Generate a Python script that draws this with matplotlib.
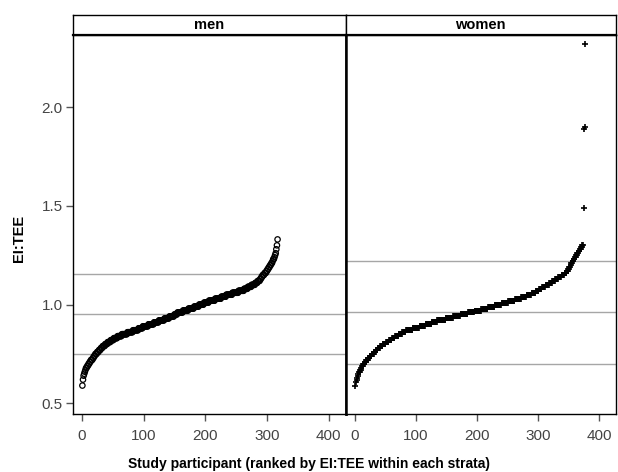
import matplotlib
matplotlib.use("Agg")
import matplotlib.pyplot as plt
import numpy as np

plt.rcParams['font.family'] = ['Liberation Sans', 'DejaVu Sans']

panels = ["men", "women"]
x_ticks = [0, 100, 200, 300, 400]
y_ticks = [0.5, 1.0, 1.5, 2.0]
y_tick_labels = ["0.5", "1.0", "1.5", "2.0"]

men_values = [
    0.59, 0.62, 0.64, 0.65, 0.66, 0.67, 0.68, 0.68, 0.69, 0.69,
    0.70, 0.70, 0.71, 0.71, 0.72, 0.72,
    0.72, 0.73, 0.73, 0.74, 0.74, 0.75, 0.75, 0.75,
    0.76, 0.76, 0.76, 0.77, 0.77, 0.77, 0.78, 0.78, 0.78, 0.79, 0.79,
    0.79, 0.79, 0.80, 0.80, 0.80, 0.80, 0.81, 0.81, 0.81, 0.81, 0.81, 0.82, 0.82, 0.82, 0.82, 0.82,
    0.83, 0.83, 0.83, 0.83, 0.83, 0.83, 0.84, 0.84, 0.84, 0.84, 0.84, 0.84, 0.84, 0.85, 0.85, 0.85,
    0.85, 0.85, 0.85, 0.85, 0.85, 0.85,
    0.86, 0.86, 0.86, 0.86, 0.86, 0.86, 0.86, 0.86, 0.86, 0.87, 0.87, 0.87, 0.87, 0.87, 0.87, 0.87,
    0.87, 0.87, 0.88, 0.88, 0.88, 0.88, 0.88, 0.88, 0.88, 0.89, 0.89,
    0.89, 0.89, 0.89, 0.89, 0.89, 0.89, 0.89, 0.90, 0.90, 0.90, 0.90, 0.90, 0.90, 0.90, 0.90, 0.90,
    0.91, 0.91, 0.91, 0.91, 0.91, 0.91, 0.91, 0.91, 0.92, 0.92, 0.92,
    0.92, 0.92, 0.92, 0.92, 0.92, 0.92, 0.93, 0.93, 0.93, 0.93, 0.93, 0.93, 0.93, 0.93, 0.94, 0.94,
    0.94, 0.94, 0.94, 0.94, 0.94, 0.94, 0.95, 0.95, 0.95, 0.95, 0.95,
    0.96, 0.96, 0.96, 0.96, 0.96, 0.96, 0.96, 0.96, 0.96, 0.97, 0.97, 0.97, 0.97, 0.97, 0.97, 0.97,
    0.97, 0.97, 0.98, 0.98, 0.98, 0.98, 0.98, 0.98, 0.98, 0.98, 0.98,
    0.99, 0.99, 0.99, 0.99, 0.99, 0.99, 0.99, 0.99, 1.00, 1.00, 1.00, 1.00, 1.00, 1.00, 1.00, 1.00,
    1.01, 1.01, 1.01, 1.01, 1.01, 1.01, 1.01, 1.01, 1.02, 1.02, 1.02,
    1.02, 1.02, 1.02, 1.02, 1.02, 1.02, 1.02, 1.03, 1.03, 1.03, 1.03, 1.03, 1.03, 1.03, 1.03, 1.03,
    1.03, 1.04, 1.04, 1.04, 1.04, 1.04, 1.04, 1.04, 1.04, 1.05, 1.05,
    1.05, 1.05, 1.05, 1.05, 1.05, 1.05, 1.05, 1.05, 1.06, 1.06, 1.06, 1.06, 1.06, 1.06, 1.06, 1.06,
    1.06, 1.06, 1.07, 1.07, 1.07, 1.07, 1.07, 1.07, 1.07, 1.07, 1.07,
    1.08, 1.08, 1.08, 1.08, 1.08, 1.08, 1.09, 1.09, 1.09, 1.09, 1.09, 1.09, 1.10, 1.10, 1.10, 1.10,
    1.10, 1.10, 1.11, 1.11, 1.11, 1.11, 1.12, 1.12, 1.12, 1.12, 1.13,
    1.13, 1.14, 1.14, 1.15, 1.15, 1.15, 1.16, 1.16,
    1.16, 1.17, 1.17, 1.18, 1.18, 1.19, 1.19, 1.20,
    1.20, 1.21, 1.21, 1.22, 1.23, 1.23, 1.24, 1.25,
    1.26, 1.28, 1.30, 1.33,
]

women_values = [
    0.59, 0.61, 0.62, 0.63, 0.64, 0.65,
    0.66, 0.66, 0.67, 0.67, 0.68, 0.69,
    0.69, 0.70, 0.70, 0.70, 0.71, 0.71, 0.72, 0.72,
    0.72, 0.73, 0.73, 0.73, 0.74, 0.74, 0.74, 0.75, 0.75, 0.75, 0.75,
    0.76, 0.76, 0.76, 0.77, 0.77, 0.77, 0.78, 0.78, 0.78, 0.78, 0.79, 0.79, 0.79, 0.79, 0.80, 0.80,
    0.80, 0.80, 0.80, 0.81, 0.81, 0.81, 0.81, 0.81, 0.82, 0.82, 0.82, 0.82, 0.82, 0.83, 0.83, 0.83,
    0.83, 0.83, 0.84, 0.84, 0.84,
    0.84, 0.84, 0.84, 0.85, 0.85, 0.85, 0.85, 0.85, 0.85, 0.86, 0.86, 0.86, 0.86, 0.86, 0.86, 0.87,
    0.87, 0.87, 0.87, 0.87, 0.87, 0.87,
    0.87, 0.87, 0.87, 0.87, 0.88, 0.88, 0.88, 0.88, 0.88, 0.88, 0.88, 0.88, 0.88, 0.88, 0.88, 0.89,
    0.89, 0.89, 0.89, 0.89, 0.89, 0.89, 0.89, 0.89, 0.89, 0.90, 0.90,
    0.90, 0.90, 0.90, 0.90, 0.90, 0.90, 0.90, 0.90, 0.91, 0.91, 0.91, 0.91, 0.91, 0.91, 0.91, 0.91,
    0.91, 0.92, 0.92, 0.92, 0.92,
    0.92, 0.92, 0.92, 0.92, 0.92, 0.92, 0.92, 0.92, 0.92, 0.92, 0.93, 0.93, 0.93, 0.93, 0.93, 0.93,
    0.93, 0.93, 0.93, 0.93, 0.93, 0.93, 0.94, 0.94, 0.94, 0.94, 0.94,
    0.94, 0.94, 0.94, 0.94, 0.94, 0.94, 0.94, 0.95, 0.95, 0.95, 0.95, 0.95, 0.95, 0.95, 0.95, 0.95,
    0.95, 0.95, 0.95, 0.96, 0.96, 0.96, 0.96, 0.96, 0.96, 0.96, 0.96,
    0.96, 0.96, 0.96, 0.97, 0.97, 0.97, 0.97, 0.97, 0.97, 0.97, 0.97, 0.97, 0.97, 0.97, 0.98, 0.98,
    0.98, 0.98, 0.98, 0.98, 0.98, 0.98, 0.98, 0.98, 0.98, 0.99, 0.99,
    0.99, 0.99, 0.99, 0.99, 0.99, 0.99, 0.99, 0.99, 0.99, 1.00, 1.00, 1.00, 1.00, 1.00, 1.00, 1.00,
    1.00, 1.00, 1.00, 1.00, 1.01, 1.01, 1.01, 1.01, 1.01, 1.01, 1.01,
    1.01, 1.01, 1.01, 1.01, 1.02, 1.02, 1.02, 1.02, 1.02, 1.02, 1.02, 1.02, 1.02, 1.02, 1.02, 1.03,
    1.03, 1.03, 1.03, 1.03, 1.03, 1.03, 1.03, 1.03, 1.03, 1.04, 1.04,
    1.04, 1.04, 1.04, 1.04, 1.04, 1.04, 1.04, 1.05, 1.05, 1.05, 1.05, 1.05, 1.05, 1.05, 1.05, 1.06,
    1.06, 1.06, 1.06, 1.06, 1.06, 1.06, 1.07, 1.07, 1.07, 1.07, 1.07,
    1.08, 1.08, 1.08, 1.08, 1.08, 1.09, 1.09, 1.09, 1.09, 1.09, 1.09, 1.10, 1.10, 1.10, 1.10, 1.10,
    1.10, 1.11, 1.11, 1.11, 1.11, 1.11, 1.12, 1.12, 1.12, 1.12, 1.12,
    1.13, 1.13, 1.13, 1.13, 1.13, 1.14, 1.14, 1.14, 1.14, 1.14, 1.15, 1.15, 1.15, 1.15, 1.15, 1.16,
    1.16, 1.16, 1.16, 1.17, 1.17,
    1.18, 1.18, 1.19, 1.19, 1.20, 1.21,
    1.21, 1.22, 1.22, 1.23, 1.23, 1.24, 1.24, 1.25,
    1.25, 1.26, 1.26, 1.27, 1.27, 1.28, 1.28, 1.29,
    1.29, 1.30, 1.30, 1.49, 1.89, 1.90, 2.32,
]

# reference lines (mean and mean +/- 2 SD) per stratum
men_ref = [0.751, 0.954, 1.156]
women_ref = [0.700, 0.964, 1.221]

data = {"men": men_values, "women": women_values}
refs = {"men": men_ref, "women": women_ref}
markers = {"men": "o", "women": "+"}

W, H = 618, 472
fig = plt.figure(figsize=(W / 100, H / 100), dpi=100)

left_px, mid_px, right_px = 72.5, 345.5, 616.0
top_px, bottom_px, head_top_px = 35.0, 414.0, 15.0

tick_col = "#555555"
edges = [(left_px, mid_px), (mid_px, right_px)]
for i, name in enumerate(panels):
    x0, x1 = edges[i]
    ax = fig.add_axes([x0 / W, 1 - bottom_px / H, (x1 - x0) / W, (bottom_px - top_px) / H])
    vals = data[name]
    ranks = np.arange(1, len(vals) + 1)
    for r in refs[name]:
        ax.axhline(r, color="#a6a6a6", lw=1.0, zorder=1)
    if markers[name] == "o":
        ax.scatter(ranks, vals, s=15, facecolors="none", edgecolors="black",
                   linewidths=0.9, zorder=3)
    else:
        ax.scatter(ranks, vals, s=22, marker="+", color="black",
                   linewidths=1.2, zorder=3)
    ax.set_xlim(-15, 427)
    ax.set_ylim(0.446, 2.365)
    ax.set_xticks(x_ticks)
    ax.set_xticklabels([str(t) for t in x_ticks], fontsize=11, color="#444444")
    ax.tick_params(axis="x", direction="out", length=5, width=1, color=tick_col, pad=6)
    if i == 0:
        ax.set_yticks(y_ticks)
        ax.set_yticklabels(y_tick_labels, fontsize=11, color="#444444")
        ax.tick_params(axis="y", direction="out", length=5, width=1, color=tick_col, pad=2)
    else:
        ax.set_yticks([])
    for side, sp in ax.spines.items():
        sp.set_color("black")
        sp.set_linewidth(1.0)
    if i == 0:
        ax.spines["right"].set_linewidth(1.8)
    else:
        ax.spines["left"].set_linewidth(1.8)

    hax = fig.add_axes([x0 / W, 1 - top_px / H, (x1 - x0) / W, (top_px - head_top_px) / H])
    hax.set_xticks([])
    hax.set_yticks([])
    for sp in hax.spines.values():
        sp.set_color("black")
        sp.set_linewidth(1.0)
    hax.spines["bottom"].set_linewidth(1.6)
    hax.text(0.5, 0.5, name, ha="center", va="center", fontsize=10.5,
             fontweight="bold", transform=hax.transAxes)

fig.text(19 / W, 1 - 238 / H, "EI:TEE", rotation=90, ha="center", va="center",
         fontsize=10.5, fontweight="bold")
fig.text(309 / W, 1 - 464 / H,
         "Study participant (ranked by EI:TEE within each strata)",
         ha="center", va="center", fontsize=10, fontweight="bold")

fig.savefig("out.png", dpi=100)
